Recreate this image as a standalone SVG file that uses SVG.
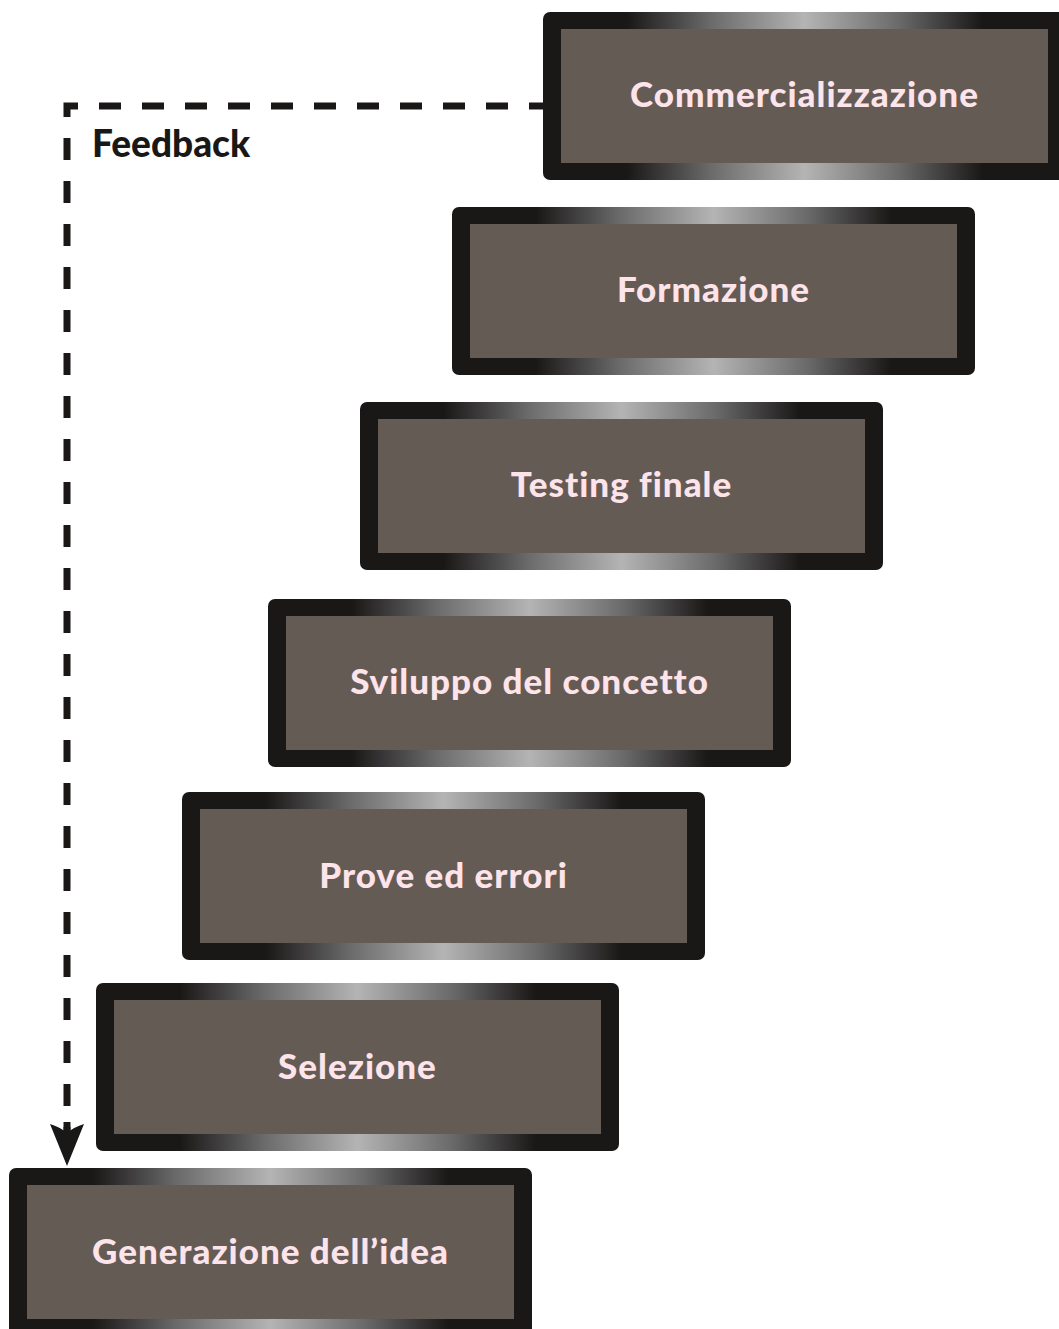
<svg xmlns="http://www.w3.org/2000/svg" width="1059" height="1329" viewBox="0 0 1059 1329">
<defs>
<linearGradient id="frame" x1="0" y1="0" x2="1" y2="0">
<stop offset="0" stop-color="#1a1717"/>
<stop offset="0.16" stop-color="#1a1717"/>
<stop offset="0.32" stop-color="#6a6a6a"/>
<stop offset="0.5" stop-color="#b4b4b4"/>
<stop offset="0.68" stop-color="#6a6a6a"/>
<stop offset="0.84" stop-color="#1a1717"/>
<stop offset="1" stop-color="#1a1717"/>
</linearGradient>
<style>
.outer{fill:url(#frame)}
.inner{fill:#645b55}
.lbl{font-family:Lato,"Open Sans","Liberation Sans",sans-serif;font-weight:900;font-size:35px;fill:#fde3ea;text-anchor:middle;letter-spacing:1px}
.fb{font-family:Lato,"Open Sans","Liberation Sans",sans-serif;font-weight:900;font-size:37px;fill:#1a1717}
.dash{fill:none;stroke:#1a1717;stroke-width:7;stroke-dasharray:22 21;stroke-dashoffset:8}
</style>
</defs>
<rect width="1059" height="1329" fill="#ffffff"/>
<g id="connectors">
<path class="dash" d="M543,106 H67 V1135"/>
<path d="M50,1124 Q60,1127 67,1133 Q74,1127 84,1124 L67,1166 Z" fill="#1a1717"/>
<rect x="63.5" y="1122" width="7" height="12" fill="#1a1717"/>
<text class="fb" x="92" y="157">Feedback</text>
</g>
<g id="node-commercializzazione">
<rect class="outer" x="543" y="12" width="523" height="168" rx="7"/>
<rect class="inner" x="561" y="29" width="487" height="134"/>
<text class="lbl" x="804.5" y="107">Commercializzazione</text>
</g>
<g id="node-formazione">
<rect class="outer" x="452" y="207" width="523" height="168" rx="7"/>
<rect class="inner" x="470" y="224" width="487" height="134"/>
<text class="lbl" x="713.5" y="302">Formazione</text>
</g>
<g id="node-testing">
<rect class="outer" x="360" y="402" width="523" height="168" rx="7"/>
<rect class="inner" x="378" y="419" width="487" height="134"/>
<text class="lbl" x="621.5" y="497">Testing finale</text>
</g>
<g id="node-sviluppo">
<rect class="outer" x="268" y="599" width="523" height="168" rx="7"/>
<rect class="inner" x="286" y="616" width="487" height="134"/>
<text class="lbl" x="529.5" y="694">Sviluppo del concetto</text>
</g>
<g id="node-prove">
<rect class="outer" x="182" y="792" width="523" height="168" rx="7"/>
<rect class="inner" x="200" y="809" width="487" height="134"/>
<text class="lbl" x="443.5" y="888">Prove ed errori</text>
</g>
<g id="node-selezione">
<rect class="outer" x="96" y="983" width="523" height="168" rx="7"/>
<rect class="inner" x="114" y="1000" width="487" height="134"/>
<text class="lbl" x="357.5" y="1079">Selezione</text>
</g>
<g id="node-generazione">
<rect class="outer" x="9" y="1168" width="523" height="168" rx="7"/>
<rect class="inner" x="27" y="1185" width="487" height="134"/>
<text class="lbl" x="270.5" y="1264">Generazione dell’idea</text>
</g>
</svg>
